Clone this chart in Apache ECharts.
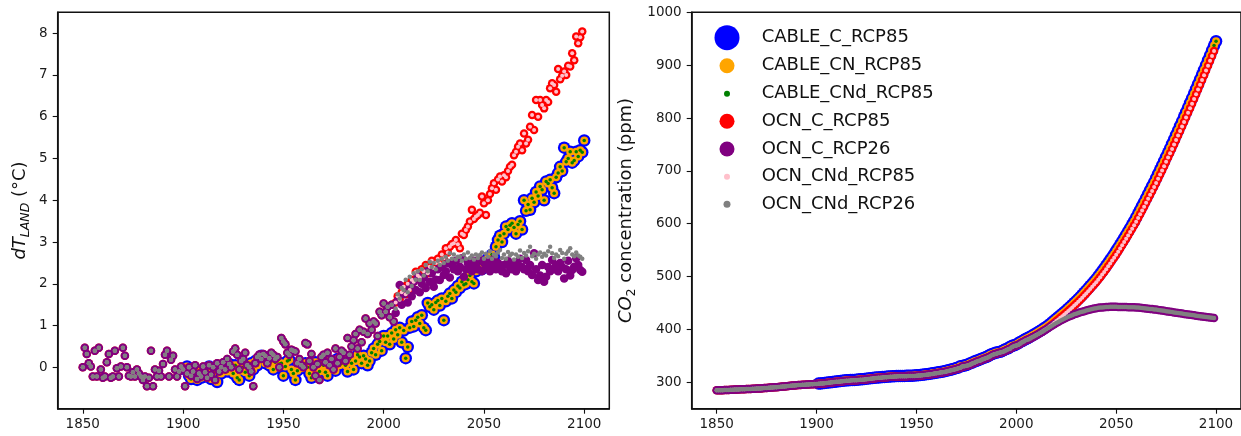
<!DOCTYPE html>
<html>
<head>
<meta charset="utf-8">
<script src="https://cdn.jsdelivr.net/npm/echarts@6/dist/echarts.min.js"></script>
<style>
html,body{margin:0;padding:0;background:#fff;}
#chart{width:1241px;height:436px;}
</style>
</head>
<body>
<div id="chart"></div>
<script>
// ---------- DATA ----------
const seriesNames = ['CABLE_C_RCP85','CABLE_CN_RCP85','CABLE_CNd_RCP85','OCN_C_RCP85','OCN_C_RCP26','OCN_CNd_RCP85','OCN_CNd_RCP26'];
const xTicks = [1850, 1900, 1950, 2000, 2050, 2100];
const dtTicks = [0, 1, 2, 3, 4, 5, 6, 7, 8];
const co2Ticks = [300, 400, 500, 600, 700, 800, 900, 1000];

// CABLE land temperature anomaly, 1901-2100 (all CABLE runs overlap)
const cableDT = [
-0.05,0.02,-0.2,-0.28,-0.15,-0.05,-0.3,-0.1,-0.25,-0.18,
-0.22,-0.1,0.02,-0.28,-0.12,-0.3,-0.35,-0.05,-0.15,-0.08,
0.02,-0.1,0.08,-0.05,-0.15,0.05,-0.25,-0.3,-0.08,0.0,
-0.12,0.05,-0.2,0.1,-0.05,0.15,0.05,0.22,0.28,0.18,
0.1,0.25,0.05,0.15,-0.05,0.12,0.0,0.08,0.1,-0.2,
0.02,0.15,0.18,-0.05,-0.15,-0.3,-0.08,0.05,-0.02,0.08,
0.1,0.0,-0.15,-0.25,-0.05,0.12,0.02,-0.1,0.08,0.05,
-0.12,-0.2,0.15,-0.05,0.0,-0.08,0.2,0.05,0.1,0.22,
0.05,-0.1,0.2,0.1,-0.05,0.15,0.3,0.25,0.1,0.28,
0.2,0.05,0.15,0.35,0.45,0.3,0.55,0.62,0.4,0.75,
0.6,0.75,0.55,0.82,0.68,0.9,0.78,0.95,0.6,0.88,
0.22,0.49,0.95,1.1,0.98,1.13,1.2,1.05,1.25,0.95,
0.89,1.54,1.45,1.5,1.38,1.55,1.6,1.48,1.65,1.13,
1.58,1.7,1.77,1.65,1.85,1.8,1.95,1.9,2.05,1.98,
2.0,2.1,2.2,2.05,2.01,2.3,2.4,2.5,2.35,2.45,
2.41,2.6,2.55,2.7,2.65,2.89,3.05,3.15,3.0,3.2,
3.37,3.3,3.4,3.45,3.35,3.2,3.42,3.5,3.3,4.0,
3.75,3.9,3.77,4.05,3.95,4.2,4.1,4.33,4.25,4.0,
4.45,4.4,4.49,4.3,4.17,4.55,4.65,4.8,4.7,5.26,
4.92,5.0,5.16,4.9,4.95,5.16,5.05,5.2,5.15,5.43
];
// OCN historical land temperature anomaly, 1850-2005 (shared by all OCN runs)
const ocnHistDT = [
0.0,0.47,0.32,0.1,0.02,-0.22,0.4,-0.22,0.47,-0.05,
-0.25,-0.22,0.12,0.32,-0.25,-0.22,0.4,-0.02,-0.22,0.02,
0.47,0.28,0.0,-0.2,-0.22,-0.12,-0.22,-0.05,-0.15,-0.22,
-0.3,-0.22,-0.45,-0.25,0.4,-0.45,-0.05,-0.22,-0.08,-0.22,
0.08,0.3,0.4,-0.22,0.18,0.28,-0.05,-0.22,-0.1,0.02,
-0.05,-0.45,-0.15,0.0,-0.2,-0.1,0.05,-0.28,-0.15,-0.22,
0.02,-0.12,-0.25,0.05,-0.18,0.0,-0.3,0.1,-0.1,0.0,
0.12,-0.05,0.2,0.08,0.0,0.38,0.45,0.3,-0.05,0.15,
0.2,0.35,0.05,0.0,-0.1,-0.45,0.1,0.25,0.3,0.2,
0.32,0.28,0.1,0.22,0.35,0.3,0.2,0.25,0.0,0.7,
0.62,0.55,0.35,0.3,0.42,0.4,0.38,0.1,0.2,0.05,
0.0,0.58,0.55,0.15,0.32,0.0,-0.2,0.08,-0.3,0.25,
0.3,0.12,0.35,0.05,0.2,-0.05,0.45,0.1,0.25,0.4,
0.35,0.15,0.7,0.3,0.5,0.65,0.8,0.45,0.9,0.6,
0.85,1.17,0.8,1.05,0.9,1.1,1.05,0.75,1.33,1.25,
1.53,1.33,1.45,1.2,1.5,1.1
];
// OCN future, 2006-2099
const ocn85DT = [
1.55,1.7,1.62,1.8,1.93,1.75,2.0,1.85,2.1,2.05,
2.29,2.2,2.15,2.35,2.3,2.45,2.25,2.41,2.55,2.38,
2.5,2.6,2.49,2.7,2.61,2.85,2.75,2.89,2.95,2.97,
3.05,2.95,2.85,3.2,3.17,3.29,3.37,3.49,3.77,3.55,
3.61,3.65,3.7,4.09,3.93,3.65,4.0,4.15,4.29,4.41,
4.25,4.5,4.57,4.45,4.6,4.55,4.7,4.8,4.85,5.08,
5.16,5.28,5.36,5.2,5.6,5.36,5.45,5.76,6.04,5.68,
6.4,6.0,6.4,6.28,6.2,6.4,6.35,6.68,6.8,6.76,
6.6,7.14,6.9,6.98,7.08,7.0,7.22,7.2,7.52,7.35,
7.92,7.76,7.9,8.04
];
const ocn26DT = [
1.3,1.6,1.97,1.5,1.75,1.85,1.55,1.95,1.7,2.05,
1.85,2.2,1.8,2.0,2.15,1.9,2.3,2.05,2.25,1.93,
2.1,2.35,2.09,2.4,2.21,2.3,2.5,2.15,2.45,2.35,
2.55,2.3,2.41,2.61,2.17,2.35,2.5,2.41,2.3,2.55,
2.45,2.35,2.6,2.3,2.5,2.4,2.55,2.3,2.45,2.6,
2.35,2.5,2.41,2.3,2.45,2.25,2.55,2.4,2.35,2.5,
2.3,2.45,2.6,2.4,2.35,2.57,2.3,2.45,2.21,2.73,
2.35,2.09,2.2,2.45,2.05,2.17,2.4,2.3,2.57,2.35,
2.45,2.3,2.5,2.4,2.13,2.35,2.55,2.2,2.33,2.41,
2.61,2.45,2.33,2.29
];
const ocnCNd26DT = [
1.4,1.75,1.65,1.9,1.85,2.1,1.8,2.17,1.95,2.25,
2.1,2.3,2.09,2.35,2.2,2.45,2.3,2.53,2.4,2.5,
2.35,2.55,2.45,2.6,2.5,2.65,2.55,2.73,2.6,2.7,
2.58,2.65,2.65,2.55,2.7,2.6,2.75,2.62,2.68,2.58,
2.7,2.62,2.69,2.75,2.6,2.72,2.65,2.78,2.6,2.7,
2.66,2.75,2.81,2.62,2.7,2.6,2.76,2.68,2.72,2.58,
2.7,2.65,2.8,2.62,2.74,2.68,2.78,2.89,2.66,2.72,
2.6,2.7,2.75,2.65,2.72,2.68,2.78,2.89,2.73,2.62,
2.7,2.66,2.81,2.74,2.6,2.72,2.78,2.85,2.7,2.66,
2.75,2.68,2.65,2.6
];

// CO2 concentration (ppm)
const co2Hist = [ // 1850-2005
284.7,284.9,285.0,285.1,285.3,285.4,285.6,285.7,285.9,286.1,
286.3,286.4,286.6,286.8,286.9,287.1,287.2,287.4,287.6,287.8,
288.0,288.2,288.4,288.7,289.0,289.3,289.6,289.9,290.2,290.5,
290.8,291.1,291.4,291.8,292.1,292.5,292.9,293.3,293.7,294.0,
294.4,294.7,294.9,295.1,295.4,295.6,295.8,296.1,296.3,296.5,
296.7,297.1,297.5,297.9,298.3,298.8,299.2,299.7,300.1,300.5,
300.8,301.2,301.6,302.0,302.4,302.8,303.1,303.4,303.6,303.8,
304.0,304.3,304.6,305.0,305.4,305.8,306.3,306.8,307.2,307.6,
308.0,308.4,308.7,309.0,309.3,309.6,310.0,310.3,310.6,310.9,
311.1,311.3,311.4,311.5,311.6,311.6,311.7,311.8,311.9,312.0,
312.2,312.6,313.0,313.4,313.8,314.3,314.8,315.3,315.8,316.5,
317.1,317.7,318.4,319.0,319.6,320.4,321.4,322.2,323.0,324.2,
325.2,326.3,327.5,329.7,330.2,331.1,332.1,333.8,335.4,336.8,
338.7,340.1,341.4,343.0,344.6,346.0,347.4,349.2,351.6,353.1,
354.2,355.6,356.4,357.1,358.8,360.8,362.6,363.7,366.7,368.4,
369.6,371.1,373.2,375.8,377.5,379.8
];
const co2RCP85 = [ // 2006-2099
381.2,383.1,385.1,387.2,389.3,391.5,393.8,396.1,398.5,401.0,
403.6,406.4,409.2,412.4,415.8,418.9,422.0,425.1,428.3,431.5,
434.8,438.2,441.6,445.2,448.8,452.4,456.2,460.0,464.0,468.1,
472.3,476.6,480.9,485.1,489.4,494.0,498.8,503.7,508.8,514.0,
519.3,524.7,530.2,535.7,541.2,547.1,553.1,559.2,565.3,571.5,
577.8,584.2,590.6,597.0,603.5,610.6,617.8,625.0,632.3,639.7,
647.1,654.6,662.1,669.6,677.1,685.0,692.9,700.9,708.9,717.0,
725.1,733.2,741.4,749.8,758.2,766.7,775.2,783.8,792.4,801.1,
809.8,818.5,827.2,836.0,844.8,853.7,862.7,871.7,880.8,889.9,
899.0,908.1,917.3,926.6
];
const co2RCP26 = [ // 2006-2099
381.0,383.0,385.0,387.0,389.1,391.3,393.5,395.8,398.1,400.4,
402.7,405.0,407.4,409.8,412.1,414.2,416.3,418.3,420.3,422.1,
423.9,425.5,427.0,428.5,429.8,431.1,432.3,433.5,434.6,435.6,
436.6,437.6,438.5,439.4,440.2,440.8,441.3,441.7,442.1,442.4,
442.6,442.7,442.8,442.8,442.7,442.6,442.5,442.4,442.3,442.2,
442.1,442.0,441.9,441.8,441.7,441.3,440.9,440.5,440.1,439.7,
439.2,438.8,438.4,437.9,437.5,436.9,436.3,435.7,435.1,434.6,
434.0,433.4,432.8,432.2,431.6,431.0,430.5,429.9,429.4,428.8,
428.2,427.7,427.1,426.6,426.0,425.5,425.0,424.5,424.0,423.4,
422.9,422.4,421.9,421.4
];
const cableCO2 = [ // 1901-2100
297.5,297.9,298.3,298.8,299.2,299.7,300.1,300.5,300.8,301.6,
302.0,302.4,302.8,303.2,303.6,303.9,304.1,304.3,304.5,304.8,
305.1,305.5,305.9,306.3,306.8,307.3,307.7,308.1,308.5,308.9,
309.2,309.5,309.8,310.1,310.5,310.8,311.1,311.4,311.6,311.8,
311.9,312.0,312.1,312.1,312.2,312.3,312.4,312.5,312.7,313.1,
313.5,313.9,314.3,314.8,315.3,315.8,316.3,317.0,317.6,318.2,
318.9,319.5,320.1,320.9,321.9,322.7,323.5,324.7,325.7,326.8,
328.0,330.2,330.7,331.6,332.6,334.3,335.9,337.3,339.2,340.6,
341.9,343.5,345.1,346.5,347.9,349.7,352.1,353.6,354.7,356.1,
356.9,357.6,359.3,361.3,363.1,364.2,367.2,368.9,370.1,371.6,
373.7,376.3,378.0,380.3,382.4,384.3,386.3,388.4,390.5,392.7,
395.0,397.3,399.7,402.2,404.8,407.6,410.4,413.6,417.0,420.1,
423.2,426.3,429.5,432.7,436.0,439.4,442.8,446.4,450.0,453.6,
457.4,461.2,465.2,469.3,473.5,477.8,482.1,486.3,490.6,495.2,
500.0,504.9,510.0,515.2,520.5,525.9,531.4,536.9,542.4,548.3,
554.3,560.4,566.5,572.7,579.0,585.4,591.8,598.2,604.7,611.8,
619.0,626.2,633.5,640.9,648.3,655.8,663.3,670.8,678.3,686.2,
694.1,702.1,710.1,718.2,726.3,734.4,742.6,751.0,759.4,767.9,
776.4,785.0,793.6,802.3,811.0,819.7,828.4,837.2,846.0,854.9,
863.9,872.9,882.0,891.1,900.2,909.3,918.5,927.8,937.1,945.2
];

// ---------- BUILD ----------
function pairs(startYear, vals){ return vals.map((v,i)=>[startYear+i, v]); }
const ocn85AllDT = pairs(1850, ocnHistDT.concat(ocn85DT));
const ocn26AllDT = pairs(1850, ocnHistDT.concat(ocn26DT));
const ocnCNd26AllDT = pairs(1850, ocnHistDT.concat(ocnCNd26DT));
const cableAllDT = pairs(1901, cableDT);
const co285All = pairs(1850, co2Hist.concat(co2RCP85));
const co226All = pairs(1850, co2Hist.concat(co2RCP26));
const cableCO2All = pairs(1901, cableCO2);

const colors = {
  'CABLE_C_RCP85':'#0000ff','CABLE_CN_RCP85':'#ffa500','CABLE_CNd_RCP85':'#008000',
  'OCN_C_RCP85':'#ff0000','OCN_C_RCP26':'#800080','OCN_CNd_RCP85':'#ffc0cb','OCN_CNd_RCP26':'#808080'
};
const plotSize = {
  'CABLE_C_RCP85':12.5,'CABLE_CN_RCP85':8,'CABLE_CNd_RCP85':3.5,
  'OCN_C_RCP85':8.5,'OCN_C_RCP26':8.5,'OCN_CNd_RCP85':4,'OCN_CNd_RCP26':4.5
};
const legendSize = {
  'CABLE_C_RCP85':25,'CABLE_CN_RCP85':15,'CABLE_CNd_RCP85':6,
  'OCN_C_RCP85':15,'OCN_C_RCP26':15,'OCN_CNd_RCP85':6,'OCN_CNd_RCP26':7
};
const leftData = {
  'CABLE_C_RCP85':cableAllDT,'CABLE_CN_RCP85':cableAllDT,'CABLE_CNd_RCP85':cableAllDT,
  'OCN_C_RCP85':ocn85AllDT,'OCN_C_RCP26':ocn26AllDT,'OCN_CNd_RCP85':ocn85AllDT,'OCN_CNd_RCP26':ocnCNd26AllDT
};
const rightData = {
  'CABLE_C_RCP85':cableCO2All,'CABLE_CN_RCP85':cableCO2All,'CABLE_CNd_RCP85':cableCO2All,
  'OCN_C_RCP85':co285All,'OCN_C_RCP26':co226All,'OCN_CNd_RCP85':co285All,'OCN_CNd_RCP26':co226All
};

const FONT = 'DejaVu Sans';
const plain = v => String(v);
const series = [];
[0,1].forEach(g=>{
  seriesNames.forEach(n=>{
    series.push({
      name:n, type:'scatter', xAxisIndex:g, yAxisIndex:g,
      data: g===0 ? leftData[n] : rightData[n],
      symbol:'circle', symbolSize: plotSize[n],
      itemStyle:{color:colors[n], opacity:1},
      silent:true
    });
  });
});

function xAxis(g){
  return {
    type:'value', gridIndex:g, min:1837.5, max:2112.5,
    axisLine:{show:true, onZero:false, lineStyle:{color:'#111', width:1.5}},
    axisTick:{show:true, length:5, customValues:xTicks, lineStyle:{color:'#111', width:1.1}},
    axisLabel:{customValues:xTicks, formatter:plain, color:'#1a1a1a', fontFamily:FONT, fontSize:13.5, margin:9},
    splitLine:{show:false}
  };
}
const rowsY = [37.7, 65.7, 93.7, 121.3, 149, 176.7, 204.3];
const legends = seriesNames.map((n,i)=>{
  const w = legendSize[n];
  const top = w > 18 ? rowsY[i] - w/2 : rowsY[i] - 9;
  return {
    data:[n], orient:'vertical', left: 727 - w/2, top: top, padding:0,
    itemWidth:w, itemHeight:w, icon:'circle',
    textStyle:{fontFamily:FONT, fontSize:18, color:'#111', padding:[0,0,0, 761.7 - (727 + w/2 + 5)]},
    selectedMode:false
  };
});

const option = {
  animation:false,
  backgroundColor:'#fff',
  grid:[
    {left:57.7, top:12.3, width:551.6, height:396.4, show:true, borderColor:'#111', borderWidth:1.5, containLabel:false},
    {left:691.7, top:12.3, width:551.7, height:396.4, show:true, borderColor:'#111', borderWidth:1.5, containLabel:false}
  ],
  legend: legends,
  xAxis:[xAxis(0), xAxis(1)],
  yAxis:[
    {
      type:'value', gridIndex:0, min:-0.99, max:8.5,
      axisLine:{show:true, onZero:false, lineStyle:{color:'#111', width:1.5}},
      axisTick:{show:true, length:5, customValues:dtTicks, lineStyle:{color:'#111', width:1.1}},
      axisLabel:{customValues:dtTicks, formatter:plain, color:'#1a1a1a', fontFamily:FONT, fontSize:13.5, margin:10},
      splitLine:{show:false},
      name:'{it|dT}{sub|LAND}{n| (°C)}', nameLocation:'middle', nameRotate:90, nameGap:25,
      nameTextStyle:{
        fontFamily:FONT, fontSize:18, color:'#111',
        rich:{
          it:{fontFamily:FONT, fontSize:18, fontStyle:'italic', color:'#111', lineHeight:24},
          sub:{fontFamily:FONT, fontSize:12.5, fontStyle:'italic', color:'#111', lineHeight:14, verticalAlign:'bottom'},
          n:{fontFamily:FONT, fontSize:18, color:'#111', lineHeight:24}
        }
      }
    },
    {
      type:'value', gridIndex:1, min:250, max:1000,
      axisLine:{show:true, onZero:false, lineStyle:{color:'#111', width:1.5}},
      axisTick:{show:true, length:5, customValues:co2Ticks, lineStyle:{color:'#111', width:1.1}},
      axisLabel:{customValues:co2Ticks, formatter:plain, color:'#1a1a1a', fontFamily:FONT, fontSize:13.5, margin:10},
      splitLine:{show:false},
      name:'{it|CO}{sub|2}{n| concentration (ppm)}', nameLocation:'middle', nameRotate:90, nameGap:53,
      nameTextStyle:{
        fontFamily:FONT, fontSize:18, color:'#111',
        rich:{
          it:{fontFamily:FONT, fontSize:18, fontStyle:'italic', color:'#111', lineHeight:24},
          sub:{fontFamily:FONT, fontSize:12.5, color:'#111', lineHeight:14, verticalAlign:'bottom'},
          n:{fontFamily:FONT, fontSize:18, color:'#111', lineHeight:24}
        }
      }
    }
  ],
  series: series
};

const chart = echarts.init(document.getElementById('chart'), null, {renderer:'canvas'});
chart.setOption(option);
</script>
</body>
</html>
